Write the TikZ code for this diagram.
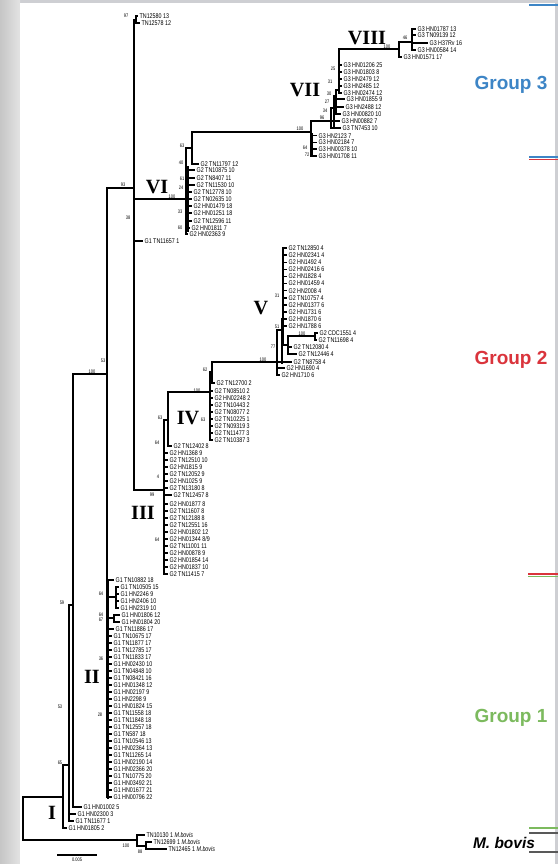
\documentclass[tikz,border=0pt]{standalone}
\usepackage{fontspec}
\setmainfont{Liberation Serif}
\newfontfamily\leaffont[FakeStretch=0.78]{Liberation Sans}
\newfontfamily\groupfont{Liberation Sans}
\definecolor{grpblue}{RGB}{61,133,198}
\definecolor{grpred}{RGB}{218,52,60}
\definecolor{grpgreen}{RGB}{124,186,94}
\definecolor{bggrey}{RGB}{206,207,211}

\begin{document}
\begin{tikzpicture}[x=0.2mm, y=-0.2mm, line width=0.85pt,
  leaf/.style={anchor=west, inner sep=0.5pt, font=\leaffont\fontsize{3.9}{4}\selectfont},
  boot/.style={inner sep=0pt, font=\leaffont\fontsize{2.9}{3}\selectfont},
  clade/.style={inner sep=0pt, font=\bfseries\fontsize{11.5}{12}\selectfont},
  grp/.style={inner sep=0pt, font=\groupfont\bfseries\fontsize{10.8}{11}\selectfont},
  bar/.style={line width=1.6pt}]
\useasboundingbox (0,0) rectangle (558,864);
\fill[bggrey] (0,0) rectangle (558,864);
\shade[left color=gray!45, right color=gray!22] (0,0) rectangle (20,864);
\fill[white] (20,3) rectangle (555,864);

% inner nodes
\coordinate (root) at (23,818);
\coordinate (n65) at (63,797);
\coordinate (n53) at (69,765);
\coordinate (n59) at (73,605);
\coordinate (nbig) at (107,374);
\coordinate (n93) at (134,188);
\coordinate (ntop) at (136,20);
\coordinate (nVI) at (186,199);
\coordinate (n63a) at (192,148);
\coordinate (nG3) at (311,132);
\coordinate (nVII) at (331,121);
\coordinate (nVIIb) at (336,108);
\coordinate (nVIIc) at (339,90);
\coordinate (nVIII) at (399,49);
\coordinate (n46) at (412,42);
\coordinate (n99) at (164,490);
\coordinate (n63b) at (168,420);
\coordinate (nIV) at (210,392);
\coordinate (n62) at (212,372);
\coordinate (nV) at (277,362);
\coordinate (nV31) at (283,330);
\coordinate (n77) at (288,345);
\coordinate (ncdc) at (315,336);
\coordinate (nII64) at (116,597);
\coordinate (nII67) at (114,618);
\coordinate (nbov) at (137,840);
\coordinate (n88) at (146,846);

% backbone
\draw (root) |- (n65);
\draw (root) |- (nbov);
\draw (n65) |- (n53);
\draw (n53) |- (n59);
\draw (n59) |- (nbig);
\draw (nbig) |- (n93);
\draw (n93) |- (ntop);
\draw (n93) |- (nVI);
\draw (nVI) |- (n63a);
\draw (n63a) |- (nG3);
\draw (nG3) |- (nVII);
\draw (nVII) |- (nVIIb);
\draw (nVIIb) |- (nVIIc);
\draw (nVIIc) |- (nVIII);
\draw (nVIII) |- (n46);
\draw (n93) |- (n99);
\draw (n99) |- (n63b);
\draw (n63b) |- (nIV);
\draw (nIV) |- (n62);
\draw (n62) |- (nV);
\draw (nV) |- (nV31);
\draw (nV31) |- (n77);
\draw (n77) |- (ncdc);
\draw (nbig) |- (nII64);
\draw (nbig) |- (nII67);
\draw (nbov) |- (n88);

% top pair
\node[leaf] (t1) at (138,16) {TN12580 13};
\node[leaf] (t2) at (140,23) {TN12578 12};
\draw (ntop) |- (t1.west);
\draw (ntop) |- (t2.west);

% group 3
\foreach \x/\y/\t [count=\i] in {416/29/HN01787 13, 416/35/TN09139 12, 428/43/H37Rv 16, 416/50/HN00584 14} {
  \node[leaf] (h\i) at (\x,\y) {G3 \t};
  \draw (n46) |- (h\i.west);
}
\node[leaf] (h5) at (402,57) {G3 HN01571 17};
\draw (nVIII) |- (h5.west);
\foreach \t [count=\i] in {HN01206 25, HN01803 8, HN2479 12, HN2485 12, HN02474 12} {
  \node[leaf] (s\i) at (342,{58+7*\i}) {G3 \t};
  \draw (nVIIc) |- (s\i.west);
}
\foreach \x/\y/\t [count=\i] in {345/99/HN01855 9, 344/107/HN2488 12, 341/114/HN00820 10} {
  \node[leaf] (r\i) at (\x,\y) {G3 \t};
  \draw (nVIIb) |- (r\i.west);
}
\node[leaf] (q1) at (340,121) {G3 HN00882 7};
\node[leaf] (q2) at (341,128) {G3 TN7453 10};
\draw (nVII) |- (q1.west);
\draw (nVII) |- (q2.west);
\foreach \t [count=\i] in {HN2123 7, HN02184 7, HN00378 10, HN01708 11} {
  \node[leaf] (p\i) at (317,{129+6.7*\i}) {G3 \t};
  \draw (nG3) |- (p\i.west);
}
\draw[bar] (334,95) -- (334,127);
\draw[bar] (312,133) -- (312,156);

% VI
\node[leaf] (u0) at (199,164) {G2 TN11797 12};
\draw (n63a) |- (u0.west);
\foreach \x/\y/\t [count=\i] in {195/170/TN10875 10, 195/178/TN8407 11, 195/185/TN11530 10, 192/192/TN12778 10,
  192/199/TN02635 10, 192/206/HN01479 18, 192/213/HN01251 18, 192/221/TN12596 11, 190/228/HN01811 7, 188/234/HN02363 9} {
  \node[leaf] (u\i) at (\x,\y) {G2 \t};
  \draw (nVI) |- (u\i.west);
}
\draw[bar] (188,166) -- (188,232);
\node[leaf] (w1) at (143,241) {G1 TN11657 1};
\draw (n93) |- (w1.west);

% V
\foreach \t [count=\i] in {TN12850 4, HN02341 4, HN1492 4, HN02416 6, HN1828 4, HN01459 4,
  HN2008 4, TN10757 4, HN01377 6, HN1731 6, HN1870 6, HN1788 6} {
  \node[leaf] (v\i) at (287,{241+7.1*\i}) {G2 \t};
  \draw (nV31) |- (v\i.west);
}
\node[leaf] (c1) at (318,333) {G2 CDC1551 4};
\node[leaf] (c2) at (317,340) {G2 TN11698 4};
\draw (ncdc) |- (c1.west);
\draw (ncdc) |- (c2.west);
\node[leaf] (c3) at (292,347) {G2 TN12080 4};
\node[leaf] (c4) at (297,354) {G2 TN12446 4};
\draw (n77) |- (c3.west);
\draw (n77) |- (c4.west);
\foreach \x/\y/\t [count=\i] in {292/362/TN8758 4, 285/368/HN1690 4, 280/375/HN1710 6} {
  \node[leaf] (k\i) at (\x,\y) {G2 \t};
  \draw (nV) |- (k\i.west);
}
\draw[bar] (282,318) -- (282,364);

% IV
\node[leaf] (m0) at (215,383) {G2 TN12700 2};
\draw (n62) |- (m0.west);
\foreach \t [count=\i] in {TN08510 2, HN02248 2, TN10443 2, TN08077 2, TN10225 1, TN09319 3, TN11477 3, TN10387 3} {
  \node[leaf] (m\i) at (213,{384+7*\i}) {G2 \t};
  \draw (nIV) |- (m\i.west);
}

% III
\node[leaf] (e0) at (172,446) {G2 TN12402 8};
\draw (n63b) |- (e0.west);
\foreach \t [count=\i] in {HN1368 9, TN12510 10, HN1815 9, TN12052 9, HN1025 9, TN13180 8} {
  \node[leaf] (e\i) at (168,{446+7*\i}) {G2 \t};
  \draw (n99) |- (e\i.west);
}
\node[leaf] (e7) at (172,495) {G2 TN12457 8};
\draw (n99) |- (e7.west);
\foreach \t [count=\i] in {HN01877 8, TN11607 8, TN12188 8, TN12551 16, HN01802 12, HN01344 8/9,
  TN11001 11, HN00878 9, HN01854 14, HN01837 10, TN11415 7} {
  \node[leaf] (f\i) at (168,{497+7*\i}) {G2 \t};
  \draw (n99) |- (f\i.west);
}
\draw[bar] (164,492) -- (164,574);

% II
\node[leaf] (g0) at (114,580) {G1 TN10882 18};
\draw (nbig) |- (g0.west);
\foreach \t [count=\i] in {TN10505 15, HN2246 9, HN2406 10, HN2319 10} {
  \node[leaf] (a\i) at (119,{580+7*\i}) {G1 \t};
  \draw (nII64) |- (a\i.west);
}
\node[leaf] (b1) at (120,615) {G1 HN01806 12};
\node[leaf] (b2) at (120,622) {G1 HN01804 20};
\draw (nII67) |- (b1.west);
\draw (nII67) |- (b2.west);
\node[leaf] (g1) at (114,629) {G1 TN11886 17};
\draw (nbig) |- (g1.west);
\foreach \t [count=\i] in {TN10675 17, TN11877 17, TN12785 17, TN11833 17, HN02430 10, TN04848 10,
  TN08421 16, HN01348 12, HN02197 9, HN2298 9, HN01824 15, TN11558 18, TN11848 18, TN12557 18,
  TN587 18, TN10546 13, HN02364 13, TN11265 14, HN02190 14, HN02366 20, TN10775 20, HN03492 21,
  HN01677 21, HN00796 22} {
  \node[leaf] (d\i) at (112,{629+7*\i}) {G1 \t};
  \draw (nbig) |- (d\i.west);
}
\draw[bar] (108,580) -- (108,799);

% I
\node[leaf] (i1) at (82,807) {G1 HN01002 5};
\node[leaf] (i2) at (76,814) {G1 HN02300 3};
\node[leaf] (i3) at (74,821) {G1 TN11677 1};
\node[leaf] (i4) at (67,828) {G1 HN01805 2};
\draw (n59) |- (i1.west);
\draw (n53) |- (i2.west);
\draw (n53) |- (i3.west);
\draw (n65) |- (i4.west);

% M. bovis
\node[leaf] (o1) at (145,835) {TN10130 1 \textit{M.bovis}};
\node[leaf] (o2) at (152,842) {TN12699 1 \textit{M.bovis}};
\node[leaf] (o3) at (167,849) {TN12465 1 \textit{M.bovis}};
\draw (nbov) |- (o1.west);
\draw (n88) |- (o2.west);
\draw (n88) |- (o3.west);

% bootstrap values
\foreach \x/\y/\v in {126/16/97, 182/146/63, 181/163/40, 182/179/61, 181/188/24, 172/197/100, 180/212/33,
  180/228/60, 123/185/93, 128/218/38, 300/129/100, 322/118/96, 333/69/25, 330/82/31, 329/94/30,
  327/102/27, 325/111/34, 305/148/64, 307/155/72, 387/47/100, 405/38/46, 277/296/31, 277/327/51,
  302/334/100, 273/347/77, 263/360/100, 205/370/62, 197/391/100, 203/420/63, 160/418/63, 157/443/64,
  158/477/4, 152/495/99, 157/540/64, 92/372/100, 103/361/53, 101/594/64, 101/615/64, 101/620/67, 101/659/36,
  100/715/28, 62/603/59, 60/707/53, 60/763/65, 126/846/100, 140/852/88}
  \node[boot] at (\x,\y) {\v};

% clade numbers
\node[clade] (cVIII) at (367,38) {VIII};
\node[clade] (cVII) at (305,90) {VII};
\node[clade] (cVI) at (157,187) {VI};
\node[clade] (cV) at (261,308) {V};
\node[clade] (cIV) at (188,418) {IV};
\node[clade] (cIII) at (143,513) {III};
\node[clade] (cII) at (92,677) {II};
\node[clade] (cI) at (52,813) {I};

% groups
\node[grp, text=grpblue] (grp3) at (511,85) {Group 3};
\node[grp, text=grpred] (grp2) at (511,360) {Group 2};
\node[grp, text=grpgreen] (grp1) at (511,718) {Group 1};
\node[grp, font=\groupfont\bfseries\itshape\fontsize{8.8}{9}\selectfont] (grpb) at (504,843) {M. bovis};
\draw[grpblue, line width=1pt] (529,5) -- (558,5);
\draw[grpblue, line width=1pt] (529,157) -- (558,157);
\draw[grpred, line width=1pt] (529,159.5) -- (558,159.5);
\draw[grpred, line width=1pt] (528,574) -- (558,574);
\draw[grpgreen, line width=1pt] (528,576.5) -- (558,576.5);
\draw[grpgreen, line width=1pt] (529,828) -- (558,828);
\draw[gray!70!black, line width=1pt] (529,833) -- (558,833);
\draw[gray!70!black, line width=1pt] (529,852) -- (558,852);

% scale bar
\draw[line width=1.3pt] (57,855) -- (97,855);
\node[boot, anchor=north] (sc) at (77,857.5) {0.005};
\end{tikzpicture}
\end{document}
